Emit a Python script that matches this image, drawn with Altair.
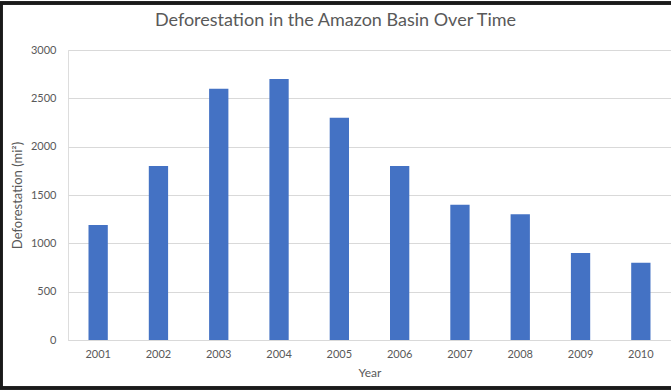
import altair as alt
import pandas as pd

years = ["2001", "2002", "2003", "2004", "2005", "2006", "2007", "2008", "2009", "2010"]
deforestation = [1190, 1800, 2600, 2700, 2300, 1800, 1400, 1300, 900, 800]

df = pd.DataFrame({"Year": years, "Deforestation": deforestation})

FONT = "Lato"
GREY = "#595959"

bars = alt.Chart(df).mark_bar(color="#4472C4").encode(
    x=alt.X("Year:N", sort=years,
            scale=alt.Scale(paddingInner=0.68, paddingOuter=0.34),
            axis=alt.Axis(title="Year", labelAngle=0, ticks=False,
                          domainColor="#d9d9d9", labelColor=GREY, labelFontSize=11,
                          labelFont=FONT, titleFont=FONT, titleColor=GREY,
                          titleFontSize=12, titleFontWeight="normal",
                          labelPadding=8, titlePadding=8)),
    y=alt.Y("Deforestation:Q",
            scale=alt.Scale(domain=[0, 3000]),
            axis=alt.Axis(title="Deforestation (mi²)", values=[0, 500, 1000, 1500, 2000, 2500, 3000],
                          format="d",
                          ticks=False, domain=False, gridColor="#d9d9d9",
                          labelColor=GREY, labelFontSize=11, labelFont=FONT,
                          labelPadding=12, titleFont=FONT, titleColor=GREY,
                          titleFontSize=13, titleFontWeight="normal", titlePadding=6)),
)

border = alt.Chart(df).mark_rect(fill=None, stroke="#1a1a1a", strokeWidth=2.5).encode(
    x=alt.value(-67), x2=alt.value(640), y=alt.value(-47), y2=alt.value(338)
)

chart = alt.layer(bars, border).properties(
    width=603, height=290,
    title=alt.TitleParams("Deforestation in the Amazon Basin Over Time",
                          font=FONT, fontSize=18, fontWeight="normal", color=GREY,
                          anchor="middle", dx=-34, dy=28, offset=0),
    autosize="none",
    padding={"left": 68, "top": 50, "right": 0, "bottom": 50},
).configure_view(stroke=None).configure(background="white")

chart.save("out.html", embed_options={"renderer": "svg", "actions": False})
